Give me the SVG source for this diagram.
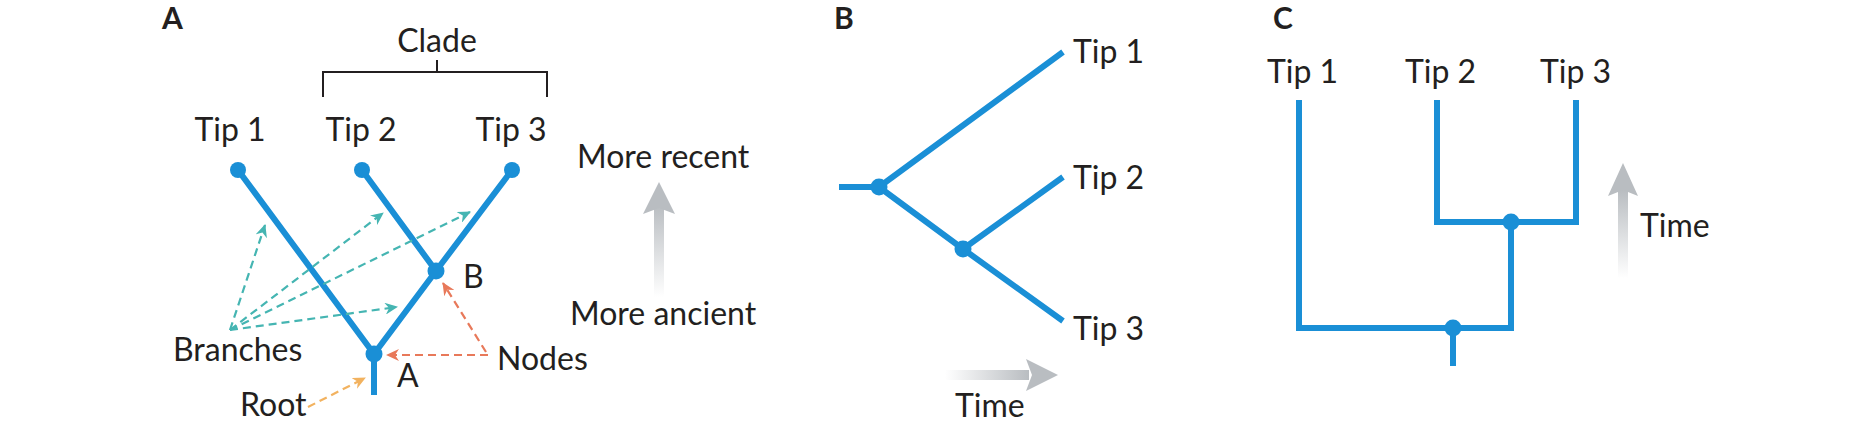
<svg xmlns="http://www.w3.org/2000/svg" width="1852" height="432" viewBox="0 0 1852 432">
<style>
text{font-family:Lato,"Open Sans","Liberation Sans",sans-serif;fill:#231f20;font-size:32px}
.panel{font-weight:bold;font-size:30px}
.br{fill:none;stroke:#1a8fd6;stroke-width:6}
.dot{fill:#1a8fd6}
.teal{fill:none;stroke:#45b5b2;stroke-width:2.2;stroke-dasharray:8 5}
.org{fill:none;stroke:#e8795a;stroke-width:2.2;stroke-dasharray:8 5}
.yel{fill:none;stroke:#f2b25f;stroke-width:2.2;stroke-dasharray:8 5}
</style>
<defs>
<marker id="mt" markerUnits="userSpaceOnUse" markerWidth="14" markerHeight="12" refX="12" refY="6" orient="auto"><path d="M0,0 L13,6 L0,12 L4,6 Z" fill="#45b5b2"/></marker>
<marker id="mo" markerUnits="userSpaceOnUse" markerWidth="14" markerHeight="12" refX="12" refY="6" orient="auto"><path d="M0,0 L13,6 L0,12 L4,6 Z" fill="#e8795a"/></marker>
<marker id="my" markerUnits="userSpaceOnUse" markerWidth="14" markerHeight="12" refX="12" refY="6" orient="auto"><path d="M0,0 L13,6 L0,12 L4,6 Z" fill="#f2b25f"/></marker>
<linearGradient id="gv" x1="0" y1="1" x2="0" y2="0"><stop offset="0" stop-color="#b9bdc1" stop-opacity="0"/><stop offset="1" stop-color="#b9bdc1"/></linearGradient>
<linearGradient id="gh" x1="0" y1="0" x2="1" y2="0"><stop offset="0" stop-color="#b9bdc1" stop-opacity="0"/><stop offset="1" stop-color="#b9bdc1"/></linearGradient>
</defs>

<g id="panelA">
<text class="panel" x="162" y="29">A</text>
<g id="clade"><text x="437" y="52" text-anchor="middle">Clade</text>
<path d="M323,97 V72 H547 V97 M437,72 V60" fill="none" stroke="#231f20" stroke-width="2"/></g>
<g id="A-tree-branches"><path class="br" d="M238,170 L374,354 L436,271 L362,170 M436,271 L512,170 M374,354 V395"/></g>
<g id="A-tip1"><circle class="dot" cx="238" cy="170" r="8"/><text x="230" y="141" text-anchor="middle">Tip 1</text></g>
<g id="A-tip2"><circle class="dot" cx="362" cy="170" r="8"/><text x="361" y="141" text-anchor="middle">Tip 2</text></g>
<g id="A-tip3"><circle class="dot" cx="512" cy="170" r="8"/><text x="511" y="141" text-anchor="middle">Tip 3</text></g>
<g id="A-nodeB"><circle class="dot" cx="436" cy="271" r="8.5"/><text x="463" y="288" font-size="30">B</text></g>
<g id="A-nodeA"><circle class="dot" cx="374" cy="354" r="8.5"/><text x="397" y="387" font-size="30">A</text></g>
<g id="A-labels">
<text x="173" y="361">Branches</text>
<text x="497" y="370">Nodes</text>
<text x="240" y="416">Root</text>
<text x="577" y="168">More recent</text>
<text x="570" y="325">More ancient</text>
</g>
<g id="A-time-arrow"><rect x="654" y="205" width="10" height="92" fill="url(#gv)"/><path d="M659,182 L675,214 L659,208 L643,214 Z" fill="#b9bdc1"/></g>
</g>

<g id="connectors">
<path class="teal" d="M230,330 L265,225" marker-end="url(#mt)"/>
<path class="teal" d="M230,330 L383,213" marker-end="url(#mt)"/>
<path class="teal" d="M230,330 L470,212" marker-end="url(#mt)"/>
<path class="teal" d="M230,330 L397,307" marker-end="url(#mt)"/>
<path class="org" d="M488,355 L387,355" marker-end="url(#mo)"/>
<path class="org" d="M486,352 L443,283" marker-end="url(#mo)"/>
<path class="yel" d="M308,407 L365,378" marker-end="url(#my)"/>
</g>

<g id="panelB">
<text class="panel" x="834" y="29">B</text>
<path class="br" d="M839,187 H879 L1063,52 M879,187 L963,249 L1063,177 M963,249 L1063,321"/>
<circle class="dot" cx="879" cy="187" r="8.5"/>
<circle class="dot" cx="963" cy="249" r="8.5"/>
<text x="1073" y="63">Tip 1</text>
<text x="1073" y="189">Tip 2</text>
<text x="1073" y="340">Tip 3</text>
<g id="B-time-arrow"><rect x="945" y="370" width="84" height="10" fill="url(#gh)"/><path d="M1058,375 L1026,391 L1032,375 L1026,359 Z" fill="#b9bdc1"/></g>
<text x="955" y="417">Time</text>
</g>

<g id="panelC">
<text class="panel" x="1273" y="29">C</text>
<text x="1267" y="83">Tip 1</text>
<text x="1405" y="83">Tip 2</text>
<text x="1540" y="83">Tip 3</text>
<path class="br" d="M1299,100 V328 H1511 V222 M1437,100 V222 H1576 V100 M1453,328 V366"/>
<circle class="dot" cx="1511" cy="222" r="8.5"/>
<circle class="dot" cx="1453" cy="328" r="8.5"/>
<g id="C-time-arrow"><rect x="1618" y="190" width="10" height="88" fill="url(#gv)"/><path d="M1623,163 L1638,196 L1623,190 L1608,196 Z" fill="#b9bdc1"/></g>
<text x="1640" y="237">Time</text>
</g>
</svg>
